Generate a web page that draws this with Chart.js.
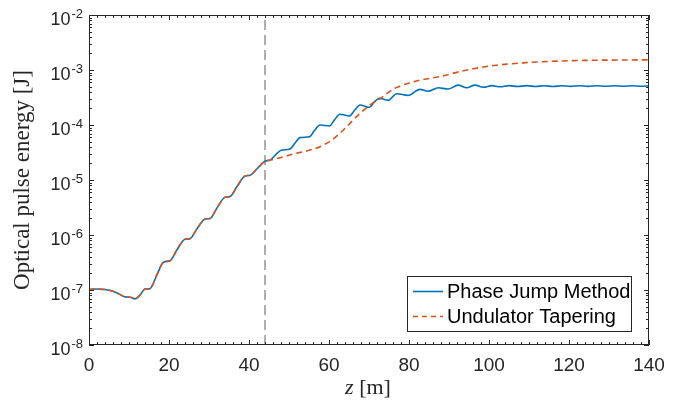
<!DOCTYPE html>
<html>
<head>
<meta charset="utf-8">
<script src="https://cdn.jsdelivr.net/npm/chart.js@4"></script>
<style>
  html, body { margin: 0; padding: 0; background: #fff; }
  canvas { display: block; }
</style>
</head>
<body>
<canvas id="energyChart" width="677" height="400"></canvas>
<script>
// axis ticks
const xTicks = [0, 20, 40, 60, 80, 100, 120, 140];
const yExponents = [-8, -7, -6, -5, -4, -3, -2];
const zMarker = 44;

// Phase Jump Method (solid blue)
const zPhase = [
  0, 2, 4, 6, 7.5, 9, 10.3, 11.5, 12.75, 14, 15.25, 17, 18.6, 20.25, 22, 24,
  25.25, 27, 29, 30.25, 32, 34, 35.25, 37, 39, 40.25, 42, 44, 45.25, 46.7,
  48.2, 50.25, 51.5, 52.75, 55.1, 56.4, 57.75, 60.1, 61.4, 62.75, 65.1, 66.4,
  67.75, 70.1, 71.3, 72.6, 74.8, 76.9, 79.75, 82.75, 84.75, 87.3, 89.75,
  92.3, 94.4, 96.5, 98.6, 100.7, 102.75, 105, 107.2, 109.4, 111.6, 113.8,
  116, 118.2, 120.4, 122.6, 124.8, 127, 129.2, 131.4, 133.6, 135.8, 138, 140
];
const ePhase = [
  1.03e-7, 1.04e-7, 1.02e-7, 9.5e-8, 8.5e-8, 7.5e-8, 7.4e-8, 6.9e-8, 8.1e-8,
  1.04e-7, 1.06e-7, 1.9e-7, 3.2e-7, 3.4e-7, 5.4e-7, 8.4e-7, 8.6e-7, 1.3e-6,
  1.95e-6, 2.0e-6, 3.1e-6, 4.84e-6, 5.0e-6, 7.6e-6, 1.18e-5, 1.22e-5, 1.6e-5,
  2.2e-5, 2.3e-5, 2.9e-5, 3.5e-5, 3.66e-5, 4.7e-5, 5.9e-5, 6.1e-5, 8.0e-5,
  1.0e-4, 9.6e-5, 1.25e-4, 1.57e-4, 1.46e-4, 1.85e-4, 2.31e-4, 2.1e-4, 2.6e-4,
  3.06e-4, 2.8e-4, 3.7e-4, 3.45e-4, 4.45e-4, 4.1e-4, 4.77e-4, 4.5e-4, 5.3e-4,
  4.75e-4, 5.3e-4, 4.85e-4, 5.2e-4, 4.95e-4, 5.2e-4, 5.0e-4, 5.2e-4, 5.0e-4,
  5.18e-4, 5.02e-4, 5.18e-4, 5.04e-4, 5.18e-4, 5.04e-4, 5.18e-4, 5.05e-4,
  5.18e-4, 5.05e-4, 5.18e-4, 5.06e-4, 5.15e-4
];

// Undulator Tapering (dashed orange)
const zTaper = [
  0, 2, 4, 6, 7.5, 9, 10.3, 11.5, 12.75, 14, 15.25, 17, 18.6, 20.25, 22, 24,
  25.25, 27, 29, 30.25, 32, 34, 35.25, 37, 39, 40.25, 42, 44, 45.25, 47.75,
  51.1, 54.4, 57.75, 60.7, 63.6, 66.9, 70.25, 72.75, 76.1, 80, 83.5, 87.75,
  93.6, 100.25, 108.6, 116.9, 125.25, 133.6, 140
];
const eTaper = [
  1.03e-7, 1.04e-7, 1.02e-7, 9.5e-8, 8.5e-8, 7.5e-8, 7.4e-8, 6.9e-8, 8.1e-8,
  1.04e-7, 1.06e-7, 1.9e-7, 3.2e-7, 3.4e-7, 5.4e-7, 8.4e-7, 8.6e-7, 1.3e-6,
  1.95e-6, 2.0e-6, 3.1e-6, 4.84e-6, 5.0e-6, 7.6e-6, 1.18e-5, 1.22e-5, 1.6e-5,
  2.2e-5, 2.3e-5, 2.54e-5, 2.97e-5, 3.37e-5, 4.03e-5, 5.34e-5, 8.1e-5,
  1.42e-4, 2.31e-4, 3.0e-4, 4.5e-4, 5.8e-4, 6.7e-4, 7.6e-4, 9.7e-4, 1.18e-3,
  1.35e-3, 1.45e-3, 1.5e-3, 1.52e-3, 1.53e-3
];

const legendLabels = ["Phase Jump Method", "Undulator Tapering"];
const blue = "#0072BD";
const orange = "#D95319";
const axisColor = "#262626";
const sans = "'Liberation Sans', Arial, sans-serif";
const serif = "'Liberation Serif', 'Times New Roman', serif";

const toPoints = (xs, ys) => xs.map((x, i) => ({ x: x, y: ys[i] }));

/** draws the MATLAB style box, inward ticks, y labels, titles and legend */
const matlabAxes = {
  id: "matlabAxes",
  afterDraw(chart) {
    const { ctx, chartArea: a, scales } = chart;
    const xs = scales.x;
    const ys = scales.y;
    ctx.save();
    ctx.strokeStyle = axisColor;
    ctx.lineWidth = 1;

    // box
    ctx.strokeRect(a.left + 0.5, a.top + 0.5, a.right - a.left - 1, a.bottom - a.top - 1);

    ctx.beginPath();
    // x ticks (every 2 m minor, 20 m major), bottom and top
    for (let v = xs.min; v <= xs.max; v += 2) {
      const px = Math.round(xs.getPixelForValue(v)) + 0.5;
      const len = xTicks.includes(v) ? 5 : 3;
      ctx.moveTo(px, a.bottom);
      ctx.lineTo(px, a.bottom - len);
      ctx.moveTo(px, a.top);
      ctx.lineTo(px, a.top + len);
    }
    // y ticks, left and right
    yExponents.forEach((e) => {
      for (let m = 1; m <= 9; m++) {
        if (e === yExponents[yExponents.length - 1] && m > 1) break;
        const py = Math.round(ys.getPixelForValue(m * Math.pow(10, e))) + 0.5;
        const len = m === 1 ? 5 : 3;
        ctx.moveTo(a.left, py);
        ctx.lineTo(a.left + len, py);
        ctx.moveTo(a.right, py);
        ctx.lineTo(a.right - len, py);
      }
    });
    ctx.stroke();

    // y tick labels 10^e
    ctx.fillStyle = axisColor;
    ctx.textAlign = "left";
    ctx.textBaseline = "middle";
    yExponents.forEach((e) => {
      const py = ys.getPixelForValue(Math.pow(10, e));
      ctx.font = "18px " + sans;
      const w1 = ctx.measureText("10").width;
      ctx.font = "13px " + sans;
      const w2 = ctx.measureText(String(e)).width;
      const x0 = a.left - 7 - w1 - w2;
      ctx.font = "18px " + sans;
      ctx.fillText("10", x0, py + 5.5);
      ctx.font = "13px " + sans;
      ctx.fillText(String(e), x0 + w1 + 1, py - 1);
    });

    // y axis title
    ctx.save();
    ctx.translate(23, (a.top + a.bottom) / 2);
    ctx.rotate(-Math.PI / 2);
    ctx.textAlign = "center";
    ctx.font = "23px " + serif;
    ctx.fillText("Optical pulse energy [J]", 0, 0);
    ctx.restore();

    // x axis title: italic z [m]
    ctx.textBaseline = "alphabetic";
    ctx.font = "italic 22px " + serif;
    const wz = ctx.measureText("z").width;
    ctx.font = "22px " + serif;
    const wm = ctx.measureText(" [m]").width;
    const cx = (a.left + a.right) / 2 - 1;
    const tx = cx - (wz + wm) / 2;
    ctx.font = "italic 22px " + serif;
    ctx.fillText("z", tx, 394);
    ctx.font = "22px " + serif;
    ctx.fillText(" [m]", tx + wz, 394);

    // legend
    const lx = 407, ly = 276, lw = 224, lh = 55;
    ctx.fillStyle = "#fff";
    ctx.fillRect(lx, ly, lw, lh);
    ctx.strokeRect(lx + 0.5, ly + 0.5, lw, lh);
    const rows = [ly + 15.5, ly + 40.5];
    const styles = [
      { color: blue, dash: [] },
      { color: orange, dash: [5, 4] },
    ];
    legendLabels.forEach((label, i) => {
      ctx.strokeStyle = styles[i].color;
      ctx.setLineDash(styles[i].dash);
      ctx.lineWidth = 1.6;
      ctx.beginPath();
      ctx.moveTo(lx + 6, rows[i]);
      ctx.lineTo(lx + 36, rows[i]);
      ctx.stroke();
      ctx.setLineDash([]);
      ctx.fillStyle = "#000";
      ctx.font = "20px " + sans;
      ctx.textBaseline = "middle";
      ctx.fillText(label, lx + 40, rows[i] + 1);
    });
    ctx.restore();
  },
};

new Chart(document.getElementById("energyChart").getContext("2d"), {
  type: "line",
  data: {
    datasets: [
      {
        label: legendLabels[1],
        data: toPoints(zTaper, eTaper),
        borderColor: orange,
        borderWidth: 1.6,
        borderDash: [6, 4],
        pointRadius: 0,
        cubicInterpolationMode: "monotone",
        order: 0,
      },
      {
        label: legendLabels[0],
        data: toPoints(zPhase, ePhase),
        borderColor: blue,
        borderWidth: 1.6,
        pointRadius: 0,
        cubicInterpolationMode: "monotone",
        order: 1,
      },
      {
        label: "marker",
        data: [
          { x: zMarker, y: Math.pow(10, yExponents[0]) },
          { x: zMarker, y: Math.pow(10, yExponents[yExponents.length - 1]) },
        ],
        borderColor: "#5e5e5e",
        borderWidth: 1,
        borderDash: [10, 5],
        pointRadius: 0,
        order: 2,
      },
    ],
  },
  options: {
    responsive: false,
    animation: false,
    layout: { padding: { left: 0, right: 28, top: 15, bottom: 0 } },
    plugins: { legend: { display: false }, tooltip: { enabled: false } },
    scales: {
      x: {
        type: "linear",
        min: xTicks[0],
        max: xTicks[xTicks.length - 1],
        afterBuildTicks: (scale) => {
          scale.ticks = xTicks.map((v) => ({ value: v }));
        },
        afterFit: (scale) => {
          scale.height = 55;
        },
        grid: { display: false, drawTicks: false },
        border: { display: false },
        ticks: {
          color: axisColor,
          font: { family: sans, size: 19 },
          padding: 9,
          maxRotation: 0,
          autoSkip: false,
        },
      },
      y: {
        type: "logarithmic",
        min: Math.pow(10, yExponents[0]),
        max: Math.pow(10, yExponents[yExponents.length - 1]),
        afterFit: (scale) => {
          scale.width = 89;
        },
        grid: { display: false, drawTicks: false },
        border: { display: false },
        ticks: { display: false },
      },
    },
  },
  plugins: [matlabAxes],
});
</script>
</body>
</html>
